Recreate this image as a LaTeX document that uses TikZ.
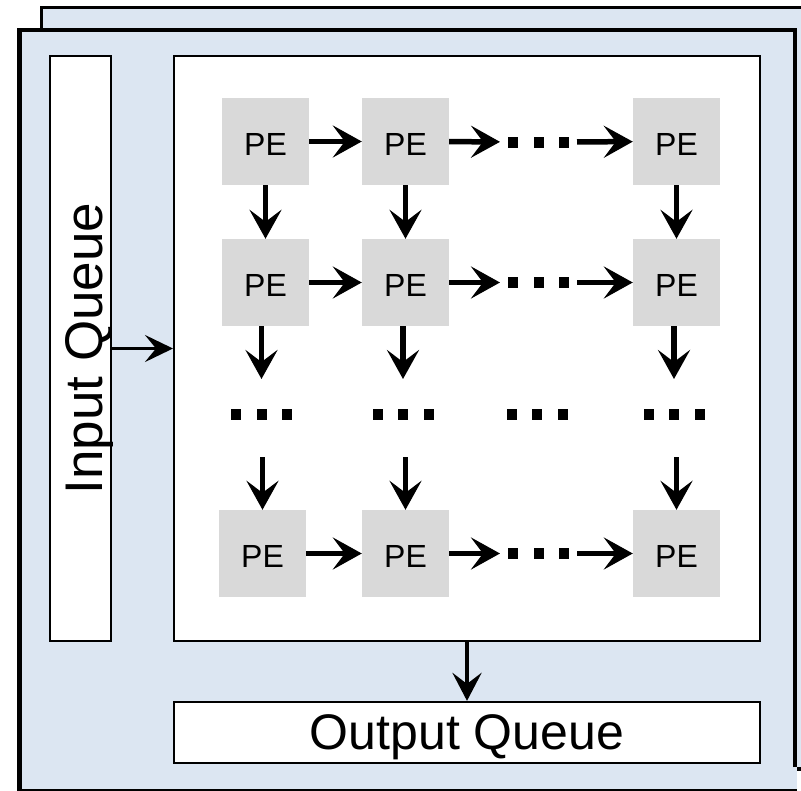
\documentclass[tikz,border=0pt]{standalone}
\usepackage{fontspec}
\setmainfont{Liberation Sans}
\usetikzlibrary{arrows.meta}
\definecolor{panelblue}{HTML}{DCE6F2}
\definecolor{pegray}{HTML}{D9D9D9}
% three small squares standing for omitted elements
\newcommand\squaretrio{\rule{10bp}{11bp}\hspace{15.5bp}\rule{10bp}{11bp}\hspace{15.5bp}\rule{10bp}{11bp}}

\begin{document}
\begin{tikzpicture}[x=1bp,y=-1bp,
  pe/.style={fill=pegray, minimum width=87bp, minimum height=87bp, inner sep=0pt,
    text height=27bp, text depth=0pt, font=\fontsize{32bp}{38bp}\selectfont},
  queuebox/.style={draw, line width=2.2bp, fill=white, inner sep=0pt},
  flow/.style={line width=5.5bp, -{Stealth[length=29bp,width=32bp,inset=12bp]}},
  hgap/.style={inner sep=0pt, outer xsep=8bp, outer ysep=0pt},
  vgap/.style={inner sep=0pt, outer ysep=29.5bp, outer xsep=0pt}]
\useasboundingbox (0,0) rectangle (801,791);

% stacked panels (back and front)
\begin{scope}
  \clip (0,0) rectangle (801,791);
  \draw[line width=3.5bp, fill=panelblue] (41.5,7.5) rectangle (819,769);
  \fill[panelblue] (19.5,30) rectangle (797,791);
  \draw[line width=4.5bp] (795,767) -- (795,30) -- (19.5,30) -- (19.5,795);
  \draw[line width=2bp] (19.5,789.5) -- (797,789.5);
\end{scope}

% queues and the array frame
\node[queuebox, rotate=90, minimum width=585bp, minimum height=61bp,
      text height=43bp, text depth=0pt, font=\fontsize{53bp}{60bp}\selectfont]
      (inq) at (80.5,348.5) {Input Queue};
\node[queuebox, line width=2bp, minimum width=586bp, minimum height=585bp]
      (arr) at (467,348.5) {};
\node[queuebox, minimum width=586bp, minimum height=61bp,
      text height=33bp, text depth=0pt, font=\fontsize{50bp}{58bp}\selectfont]
      (outq) at (467,732.5) {Output Queue};

% processing elements
\node[pe] (p11) at (265.5,141.5) {PE};
\node[pe] (p12) at (405.5,141.5) {PE};
\node[pe] (p13) at (676.5,141.5) {PE};
\node[pe] (p21) at (265.5,282.5) {PE};
\node[pe] (p22) at (405.5,282.5) {PE};
\node[pe] (p23) at (676.5,282.5) {PE};
\node[pe] (p31) at (262.5,553.5) {PE};
\node[pe] (p32) at (405.5,553.5) {PE};
\node[pe] (p33) at (676.5,553.5) {PE};

% elided elements
\node[hgap] (h1) at (538.5,142) {\squaretrio};
\node[hgap] (h2) at (538.5,282.5) {\squaretrio};
\node[hgap] (h3) at (538.5,553.5) {\squaretrio};
\node[vgap] (v1) at (261.5,414) {\squaretrio};
\node[vgap] (v2) at (403,414) {\squaretrio};
\node[vgap] (v3) at (537,414) {\squaretrio};
\node[vgap] (v4) at (674,414) {\squaretrio};

% horizontal links
\draw[flow] (p11) -- (p12);
\draw[flow] (p21) -- (p22);
\draw[flow] (p31) -- (p32);
\draw[flow] (p12) -- (h1);
\draw[flow] (h1) -- (p13);
\draw[flow] (p22) -- (h2);
\draw[flow] (h2) -- (p23);
\draw[flow] (p32) -- (h3);
\draw[flow] (h3) -- (p33);

% vertical links
\draw[flow] (p11) -- (p21);
\draw[flow] (p12) -- (p22);
\draw[flow] (p13) -- (p23);
\draw[flow] (p21.south -| v1) -- (v1.north);
\draw[flow] (p22.south -| v2) -- (v2.north);
\draw[flow] (p23.south -| v4) -- (v4.north);
\draw[flow, shorten <=8bp] (v1.south -| p31.north) -- (p31.north);
\draw[flow, shorten <=8bp] (v2.south -| p32.north) -- (p32.north);
\draw[flow, shorten <=8bp] (v4.south -| p33.north) -- (p33.north);

% queue connections
\draw[line width=3bp, -{Stealth[length=28bp,width=27bp,inset=11bp]}]
  (inq.south) -- (inq.south -| arr.west);
\draw[line width=4.5bp, -{Stealth[length=28bp,width=29bp,inset=11bp]}]
  (arr.south) -- (outq.north);
\end{tikzpicture}
\end{document}
